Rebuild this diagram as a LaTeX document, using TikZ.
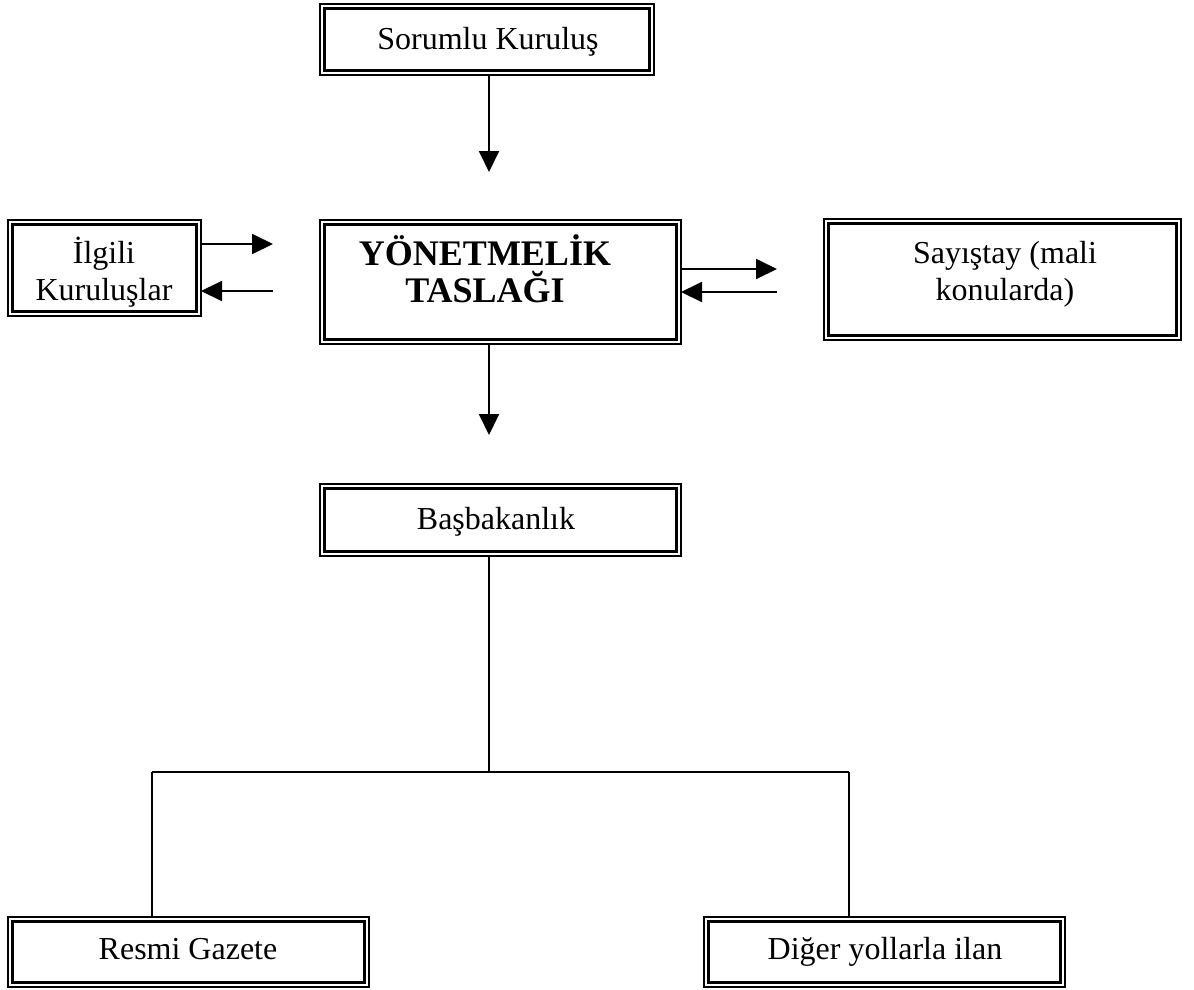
\documentclass[tikz,border=0pt]{standalone}
\usepackage{fontspec}
\setmainfont{Liberation Serif}
\usetikzlibrary{arrows.meta}
\begin{document}
\begin{tikzpicture}[x=1pt,y=-1pt,
  dbox/.style={draw, line width=2pt, inner sep=0pt, outer sep=0pt,
    path picture={\draw[line width=3pt]
      ([shift={(4.6pt,4.6pt)}]path picture bounding box.south west) rectangle
      ([shift={(-4.6pt,-4.6pt)}]path picture bounding box.north east);}},
  txt/.style={inner sep=0pt, align=center, anchor=base,
    font=\fontsize{32}{36.5}\selectfont},
  conn/.style={line width=1.9pt},
  arr/.style={line width=1.9pt, -{Triangle[length=21pt,width=20pt]}}]
\useasboundingbox (0,0) rectangle (1194,989);
% boxes
\node[dbox, minimum width=334pt, minimum height=71pt] (sor) at (487,39.5) {};
\node[dbox, minimum width=361pt, minimum height=124pt] (yon) at (500.5,282) {};
\node[dbox, minimum width=193pt, minimum height=96pt] (ilg) at (104.5,268) {};
\node[dbox, minimum width=357pt, minimum height=121pt] (say) at (1002.5,279.5) {};
\node[dbox, minimum width=361pt, minimum height=72pt] (bas) at (500.5,520) {};
\node[dbox, minimum width=361pt, minimum height=70pt] (res) at (188.5,952) {};
\node[dbox, minimum width=361pt, minimum height=70pt] (dig) at (884.5,952) {};
% texts
\node[txt] (sorT) at (488,49) {Sorumlu Kuruluş};
\node[txt] (ilgT) at (104,300) {İlgili\\Kuruluşlar};
\node[txt, font=\fontsize{36}{37}\selectfont\bfseries] (yonT) at (485,302) {YÖNETMELİK\\TASLAĞI};
\node[txt] (sayT) at (1005,300) {Sayıştay (mali\\konularda)};
\node[txt] (basT) at (496,529) {Başbakanlık};
\node[txt] (resT) at (188,959) {Resmi Gazete};
\node[txt] (digT) at (885,959) {Diğer yollarla ilan};
% free ends
\coordinate (cx) at (489,0);
\coordinate (t1) at (489,172);
\coordinate (t2) at (489,435);
\coordinate (a1) at (273,244);
\coordinate (a2) at (273,291);
\coordinate (b1) at (777,269);
\coordinate (b2) at (777,292);
\coordinate (j) at (489,772);
\coordinate (jl) at (152,772);
\coordinate (jr) at (849,772);
% connectors
\draw[arr] (sor.south -| cx) -- (t1);
\draw[arr] (yon.south -| cx) -- (t2);
\draw[arr] (ilg.east |- a1) -- (a1);
\draw[arr] (a2) -- (ilg.east |- a2);
\draw[arr] (yon.east |- b1) -- (b1);
\draw[arr] (b2) -- (yon.east |- b2);
\draw[conn] (bas.south -| cx) -- (j);
\draw[conn] (jl) -- (jr);
\draw[conn] (jl) -- (res.north -| jl);
\draw[conn] (jr) -- (dig.north -| jr);
\end{tikzpicture}
\end{document}
